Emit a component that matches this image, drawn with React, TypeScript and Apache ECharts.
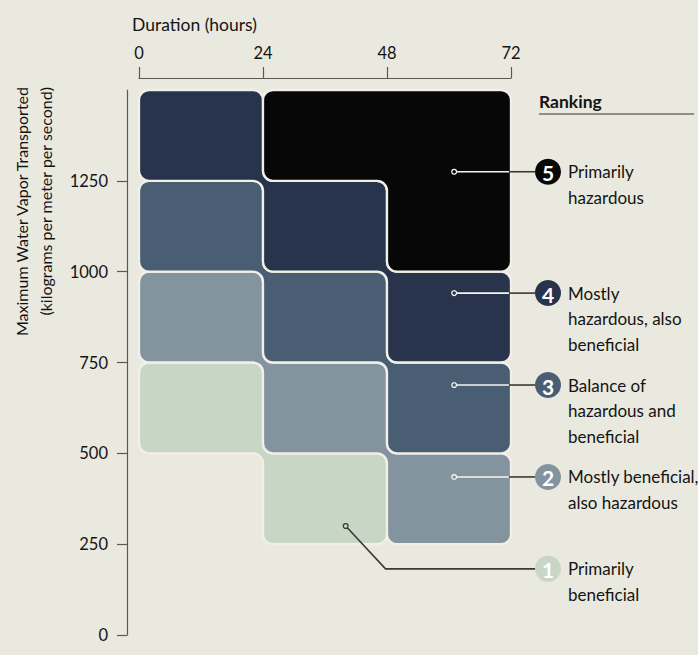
import React, { useEffect, useRef } from "react";
import * as echarts from "echarts";

// ---- data ----
const durationEdges = [0, 24, 48, 72];
const vaporEdges = [0, 250, 500, 750, 1000, 1250, 1500];
const durationTicks = [0, 24, 48, 72];
const vaporTicks = [0, 250, 500, 750, 1000, 1250];
// rank of each cell: rows = vapor bins (bottom → top), columns = duration bins
const rankGrid = [
  [0, 0, 0],
  [0, 1, 2],
  [1, 2, 3],
  [2, 3, 4],
  [3, 4, 5],
  [4, 5, 5],
];
const ranks = [1, 2, 3, 4, 5];
const rankColors = ["#c8d6c6", "#84949e", "#4a5e73", "#28344b", "#070707"];
const rankLabels = [
  ["Primarily", "beneficial"],
  ["Mostly beneficial,", "also hazardous"],
  ["Balance of", "hazardous and", "beneficial"],
  ["Mostly", "hazardous, also", "beneficial"],
  ["Primarily", "hazardous"],
];
const calloutDuration = [40, 61, 61, 61, 61];
const calloutVapor = [300, 435, 688, 941, 1275];
const legendVapor = [182, 435, 688, 941, 1275];

const FONT = "Lato, 'Open Sans', sans-serif";
const BG = "#eae9df";
const LINE = "#f1f0e8";

function bandPolygon(rank: number): number[][] {
  const cols: { x0: number; x1: number; y0: number; y1: number }[] = [];
  for (let c = 0; c < durationEdges.length - 1; c++) {
    let lo = -1;
    let hi = -1;
    for (let r = 0; r < rankGrid.length; r++) {
      if (rankGrid[r][c] === rank) {
        if (lo < 0) lo = r;
        hi = r;
      }
    }
    if (lo >= 0)
      cols.push({ x0: durationEdges[c], x1: durationEdges[c + 1], y0: vaporEdges[lo], y1: vaporEdges[hi + 1] });
  }
  const pts: number[][] = [];
  cols.forEach((c) => {
    pts.push([c.x0, c.y1], [c.x1, c.y1]);
  });
  for (let i = cols.length - 1; i >= 0; i--) {
    pts.push([cols[i].x1, cols[i].y0], [cols[i].x0, cols[i].y0]);
  }
  return pts;
}

function cleanPoly(P: number[][]): number[][] {
  let pts = P.filter((p, i) => {
    const q = P[(i - 1 + P.length) % P.length];
    return Math.abs(p[0] - q[0]) > 0.01 || Math.abs(p[1] - q[1]) > 0.01;
  });
  let changed = true;
  while (changed) {
    changed = false;
    const n = pts.length;
    for (let i = 0; i < n; i++) {
      const a = pts[(i - 1 + n) % n];
      const p = pts[i];
      const b = pts[(i + 1) % n];
      const cross = (p[0] - a[0]) * (b[1] - p[1]) - (p[1] - a[1]) * (b[0] - p[0]);
      if (Math.abs(cross) < 0.01) {
        pts = pts.filter((_, j) => j !== i);
        changed = true;
        break;
      }
    }
  }
  return pts;
}

function roundedPath(P: number[][], r: number): string {
  const n = P.length;
  const k = 0.5523;
  let d = "";
  for (let i = 0; i < n; i++) {
    const p = P[i];
    const a = P[(i - 1 + n) % n];
    const b = P[(i + 1) % n];
    const la = Math.hypot(a[0] - p[0], a[1] - p[1]);
    const lb = Math.hypot(b[0] - p[0], b[1] - p[1]);
    const rr = Math.min(r, la / 2, lb / 2);
    const A = [p[0] + ((a[0] - p[0]) / la) * rr, p[1] + ((a[1] - p[1]) / la) * rr];
    const B = [p[0] + ((b[0] - p[0]) / lb) * rr, p[1] + ((b[1] - p[1]) / lb) * rr];
    const c1 = [A[0] + (p[0] - A[0]) * k, A[1] + (p[1] - A[1]) * k];
    const c2 = [B[0] + (p[0] - B[0]) * k, B[1] + (p[1] - B[1]) * k];
    d += (i === 0 ? "M" : "L") + A[0].toFixed(2) + " " + A[1].toFixed(2) + " ";
    d += "C" + c1[0].toFixed(2) + " " + c1[1].toFixed(2) + " " + c2[0].toFixed(2) + " " + c2[1].toFixed(2) + " " + B[0].toFixed(2) + " " + B[1].toFixed(2) + " ";
  }
  return d + "Z";
}

export default function App() {
  const ref = useRef<HTMLDivElement>(null);
  useEffect(() => {
    if (!ref.current) return;
    const chart = echarts.init(ref.current, undefined, { renderer: "svg" });
    const axisColor = "#5a5a55";
    chart.setOption({
      animation: false,
      backgroundColor: BG,
      grid: { left: 139, right: 187, top: 90, bottom: 20 },
      xAxis: {
        type: "value",
        position: "top",
        min: 0,
        max: 72,
        interval: 24,
        offset: 12,
        axisLine: { show: true, onZero: false, lineStyle: { color: axisColor, width: 1.2 } },
        axisTick: { show: true, length: 11, lineStyle: { color: axisColor, width: 1.2 }, customValues: durationTicks },
        axisLabel: { margin: 17, color: "#141414", fontSize: 16.5, fontFamily: FONT, customValues: durationTicks },
        splitLine: { show: false },
      },
      yAxis: {
        type: "value",
        min: 0,
        max: 1500,
        interval: 250,
        offset: 12,
        axisLine: { show: true, onZero: false, lineStyle: { color: axisColor, width: 1.2 } },
        axisTick: { show: true, length: 10, lineStyle: { color: axisColor, width: 1.2 }, customValues: vaporTicks },
        axisLabel: {
          margin: 19,
          color: "#141414",
          fontSize: 16.5,
          fontFamily: FONT,
          customValues: vaporTicks,
          formatter: (v: number) => (v >= 1500 ? "" : String(v)),
        },
        splitLine: { show: false },
      },
      graphic: [
        {
          type: "text",
          x: 132,
          y: 24,
          style: { text: "Duration (hours)", fill: "#141414", fontSize: 17.5, fontFamily: FONT, verticalAlign: "middle", align: "left" },
        },
        {
          type: "text",
          x: 21,
          y: 87,
          rotation: Math.PI / 2,
          style: { text: "Maximum Water Vapor Transported", fill: "#141414", fontSize: 16, fontFamily: FONT, verticalAlign: "middle", align: "right" },
        },
        {
          type: "text",
          x: 45,
          y: 87,
          rotation: Math.PI / 2,
          style: { text: "(kilograms per meter per second)", fill: "#141414", fontSize: 16, fontFamily: FONT, verticalAlign: "middle", align: "right" },
        },
        {
          type: "text",
          x: 539,
          y: 101,
          style: { text: "Ranking", fill: "#141414", fontSize: 17.5, fontWeight: "bold", fontFamily: FONT, verticalAlign: "middle", align: "left" },
        },
        {
          type: "line",
          shape: { x1: 539, y1: 114, x2: 694, y2: 114 },
          style: { stroke: "#333", lineWidth: 1.2 },
        },
      ],
      series: [
        {
          type: "custom",
          coordinateSystem: "cartesian2d",
          data: ranks.map((r) => [r]),
          renderItem: (params: any, api: any) => {
            const rank = ranks[params.dataIndex];
            const poly = cleanPoly(bandPolygon(rank).map((p) => api.coord(p)));
            return {
              type: "path",
              shape: { pathData: roundedPath(poly, 10) },
              style: { fill: rankColors[rank - 1], stroke: LINE, lineWidth: 2.3 },
            };
          },
        },
        {
          type: "custom",
          coordinateSystem: "cartesian2d",
          data: ranks.map((_, i) => [calloutDuration[i], calloutVapor[i]]),
          z: 5,
          renderItem: (params: any, api: any) => {
            const i = params.dataIndex;
            const rank = ranks[i];
            const p = api.coord([api.value(0), api.value(1)]);
            const ly = api.coord([0, legendVapor[i]])[1];
            const edgeX = api.coord([durationEdges[durationEdges.length - 1], 0])[0];
            const cx = edgeX + 37;
            const cr = 13;
            const children: any[] = [];
            if (Math.abs(ly - p[1]) < 1) {
              children.push({
                type: "line",
                shape: { x1: p[0], y1: p[1], x2: edgeX - 2, y2: p[1] },
                style: { stroke: "#f4f4f0", lineWidth: 1.6 },
              });
              children.push({
                type: "line",
                shape: { x1: edgeX - 2, y1: p[1], x2: cx - cr, y2: p[1] },
                style: { stroke: "#3a3a36", lineWidth: 1.6 },
              });
              children.push({
                type: "circle",
                shape: { cx: p[0], cy: p[1], r: 2.4 },
                style: { fill: rankColors[rank - 1], stroke: "#f4f4f0", lineWidth: 1.3 },
              });
            } else {
              const dy = ly - p[1];
              children.push({
                type: "polyline",
                shape: { points: [[p[0], p[1]], [p[0] + dy * 0.93, ly], [cx - cr, ly]] },
                style: { stroke: "#3a3a36", lineWidth: 1.6, fill: "none" },
              });
              children.push({
                type: "circle",
                shape: { cx: p[0], cy: p[1], r: 2.4 },
                style: { fill: rankColors[rank - 1], stroke: "#3a3a36", lineWidth: 1.3 },
              });
            }
            children.push({
              type: "circle",
              shape: { cx: cx, cy: ly, r: cr },
              style: { fill: rankColors[rank - 1] },
            });
            children.push({
              type: "text",
              x: cx,
              y: ly + 1,
              style: { text: String(rank), fill: "#ffffff", fontSize: 21, fontWeight: "bold", fontFamily: FONT, align: "center", verticalAlign: "middle" },
            });
            rankLabels[i].forEach((t, j) => {
              children.push({
                type: "text",
                x: cx + 20,
                y: ly + j * 25.5,
                style: { text: t, fill: "#141414", fontSize: 17, fontFamily: FONT, align: "left", verticalAlign: "middle" },
              });
            });
            return { type: "group", children };
          },
        },
      ],
    });
    return () => chart.dispose();
  }, []);
  return (
    <div
      ref={ref}
      style={{ position: "fixed", left: 0, top: 0, width: 698, height: 655, background: BG }}
    />
  );
}
